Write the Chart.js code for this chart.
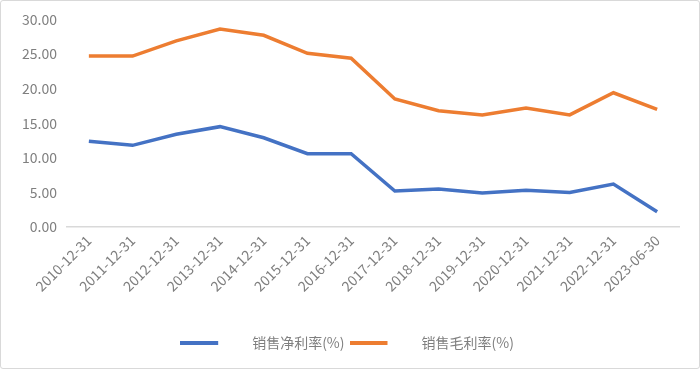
<!DOCTYPE html>
<html>
<head>
<meta charset="utf-8">
<script src="https://cdn.jsdelivr.net/npm/chart.js@4"></script>
<style>
  html, body { margin: 0; padding: 0; background: #fff; }
  #wrap { position: relative; width: 700px; height: 369px; box-sizing: border-box; border: 1px solid #d9d9d9; border-radius: 3px; }
</style>
</head>
<body>
<div id="wrap"><canvas id="c"></canvas></div>
<script>
const categories = ["2010-12-31","2011-12-31","2012-12-31","2013-12-31","2014-12-31","2015-12-31","2016-12-31","2017-12-31","2018-12-31","2019-12-31","2020-12-31","2021-12-31","2022-12-31","2023-06-30"];
const netMargin = [12.4, 11.8, 13.4, 14.5, 12.9, 10.6, 10.6, 5.2, 5.5, 4.9, 5.3, 5.0, 6.2, 2.2];
const grossMargin = [24.7, 24.7, 26.9, 28.6, 27.7, 25.1, 24.4, 18.5, 16.8, 16.2, 17.2, 16.2, 19.4, 17.0];
const seriesNames = ["销售净利率(%)", "销售毛利率(%)"];
const yTicks = [0, 5, 10, 15, 20, 25, 30];

const FONT = '"Noto Sans CJK SC", "Noto Sans", sans-serif';
const TEXT = '#7f7f7f';

function legendMark(color) {
  const cv = document.createElement('canvas');
  cv.width = 65; cv.height = 4;
  const g = cv.getContext('2d');
  g.fillStyle = color;
  g.fillRect(0, 0, 38, 4);
  return cv;
}

new Chart(document.getElementById('c'), {
  type: 'line',
  data: {
    labels: categories,
    datasets: [
      { label: seriesNames[0], data: netMargin, borderColor: '#4472C4', backgroundColor: '#4472C4', borderWidth: 3.5, pointRadius: 0, tension: 0, pointStyle: legendMark('#4472C4') },
      { label: seriesNames[1], data: grossMargin, borderColor: '#ED7D31', backgroundColor: '#ED7D31', borderWidth: 3.5, pointRadius: 0, tension: 0, pointStyle: legendMark('#ED7D31') }
    ]
  },
  options: {
    responsive: true,
    maintainAspectRatio: false,
    animation: false,
    layout: { padding: { left: 14, right: 20, top: 12, bottom: 8 } },
    plugins: {
      legend: {
        position: 'bottom',
        labels: {
          usePointStyle: true,
          pointStyleWidth: 65,
          boxHeight: 4,
          padding: 5,
          color: TEXT,
          font: { family: FONT, size: 14 }
        }
      },
      tooltip: { enabled: false }
    },
    scales: {
      x: {
        offset: true,
        grid: { display: false, drawTicks: false },
        border: { display: true, color: '#d9d9d9', width: 1.5 },
        ticks: { color: TEXT, font: { family: FONT, size: 14 }, maxRotation: 45, minRotation: 45, padding: 5, autoSkip: false },
        afterFit(s) { s.height = 104; }
      },
      y: {
        min: 0, max: 30,
        afterBuildTicks(s) { s.ticks = yTicks.map(v => ({ value: v })); },
        grid: { display: false, drawTicks: false },
        border: { display: false },
        ticks: { color: TEXT, font: { family: FONT, size: 14 }, padding: 10, callback: v => Number(v).toFixed(2) },
        afterFit(s) { s.width = 52; }
      }
    }
  }
});
</script>
</body>
</html>
